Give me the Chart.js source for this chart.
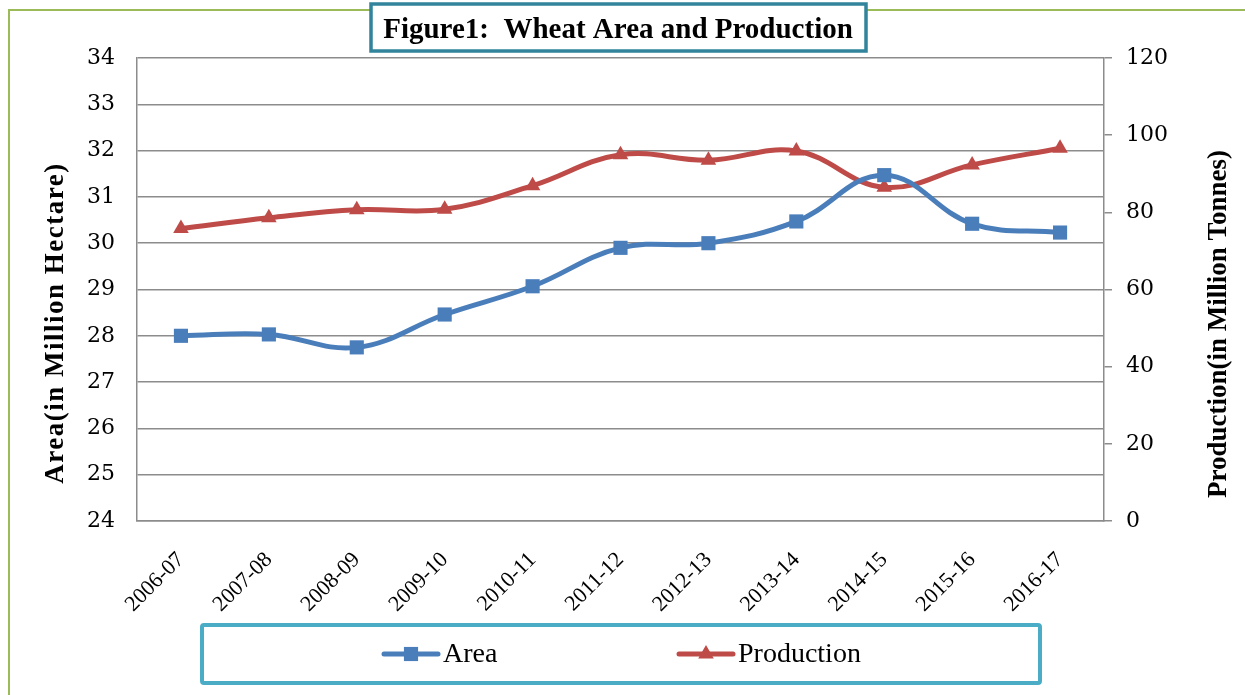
<!DOCTYPE html>
<html>
<head>
<meta charset="utf-8">
<script src="https://cdn.jsdelivr.net/npm/chart.js@4/dist/chart.umd.min.js"></script>
<style>
  html, body { margin: 0; padding: 0; background: #fff; }
  #wrap { width: 1245px; height: 695px; position: relative; }
</style>
</head>
<body>
<div id="wrap"><canvas id="wheatChart" width="1245" height="695"></canvas></div>
<script>
// Dados
const anos = ['2006-07', '2007-08', '2008-09', '2009-10', '2010-11', '2011-12',
              '2012-13', '2013-14', '2014-15', '2015-16', '2016-17'];
const area = [28.0, 28.03, 27.75, 28.46, 29.07, 29.9, 30.0, 30.47, 31.47, 30.42, 30.23];
const producao = [75.8, 78.6, 80.7, 80.8, 86.9, 94.9, 93.5, 95.9, 86.5, 92.3, 96.6];

const tituloGrafico = 'Figure1:  Wheat Area and Production';
const tituloEsq = 'Area(in Million Hectare)';
const tituloDir = 'Production(in Million Tonnes)';

const azul = '#4A7EBB';
const vermelho = '#BE4B48';
const cinza = '#8c8c8c';
const serif = "'Liberation Serif', 'DejaVu Serif', serif";
const serifNum = "'DejaVu Serif', 'Liberation Serif', serif";

// Desenha moldura, título, legenda e títulos dos eixos
const decoracao = {
    id: 'decoracao',
    afterDraw(chart) {
        const ctx = chart.ctx;
        ctx.save();

        // moldura verde externa
        ctx.strokeStyle = '#9BBB59';
        ctx.lineWidth = 2;
        ctx.beginPath();
        ctx.moveTo(9, 700);
        ctx.lineTo(9, 10);
        ctx.lineTo(1250, 10);
        ctx.stroke();

        // caixa do título
        ctx.fillStyle = '#fff';
        ctx.fillRect(371, 4, 495, 47);
        ctx.strokeStyle = '#31849B';
        ctx.lineWidth = 3.5;
        ctx.strokeRect(371, 4, 495, 47);
        ctx.fillStyle = '#000';
        ctx.font = 'bold 29px ' + serif;
        ctx.textAlign = 'center';
        ctx.textBaseline = 'middle';
        ctx.fillText(tituloGrafico, 618, 31);

        // títulos dos eixos
        ctx.font = 'bold 27px ' + serif;
        ctx.save();
        ctx.letterSpacing = '1.5px';
        ctx.translate(56, 323);
        ctx.rotate(-Math.PI / 2);
        ctx.fillText(tituloEsq, 0, 0);
        ctx.restore();
        ctx.save();
        ctx.translate(1219, 324);
        ctx.rotate(-Math.PI / 2);
        ctx.fillText(tituloDir, 0, 0);
        ctx.restore();

        // caixa da legenda
        ctx.strokeStyle = '#4BACC6';
        ctx.lineWidth = 4;
        ctx.beginPath();
        ctx.roundRect(202, 625, 838, 58, 2);
        ctx.stroke();

        const itens = [
            { x: 384, ds: chart.data.datasets[0] },
            { x: 679, ds: chart.data.datasets[1] }
        ];
        const yLeg = 654;
        itens.forEach(item => {
            ctx.strokeStyle = item.ds.borderColor;
            ctx.lineWidth = 5;
            ctx.lineCap = 'round';
            ctx.beginPath();
            ctx.moveTo(item.x, yLeg);
            ctx.lineTo(item.x + 54, yLeg);
            ctx.stroke();
            ctx.fillStyle = item.ds.borderColor;
            Chart.helpers.drawPoint(ctx, {
                pointStyle: item.ds.pointStyle,
                radius: item.ds.pointRadius,
                borderWidth: 0
            }, item.x + 27, yLeg);
            ctx.fillStyle = '#000';
            ctx.font = '28px ' + serif;
            ctx.textAlign = 'left';
            ctx.textBaseline = 'middle';
            ctx.fillText(item.ds.label, item.x + 59, yLeg + 1);
        });

        ctx.restore();
    }
};

const ctx = document.getElementById('wheatChart').getContext('2d');

new Chart(ctx, {
    type: 'line',
    data: {
        labels: anos,
        datasets: [
            {
                label: 'Area',
                data: area,
                yAxisID: 'y',
                borderColor: azul,
                backgroundColor: azul,
                borderWidth: 5,
                tension: 0.4,
                pointStyle: 'rect',
                pointRadius: 10,
                pointBorderWidth: 0,
                pointBackgroundColor: azul
            },
            {
                label: 'Production',
                data: producao,
                yAxisID: 'y1',
                borderColor: vermelho,
                backgroundColor: vermelho,
                borderWidth: 5,
                tension: 0.4,
                pointStyle: 'triangle',
                pointRadius: 9,
                pointBorderWidth: 0,
                pointBackgroundColor: vermelho
            }
        ]
    },
    options: {
        responsive: false,
        animation: false,
        layout: { padding: { top: 58, left: 0, right: 0, bottom: 0 } },
        plugins: {
            legend: { display: false },
            title: { display: false },
            tooltip: { enabled: false }
        },
        scales: {
            x: {
                offset: true,
                grid: { display: false, drawTicks: false },
                border: { color: cinza, width: 1.5 },
                ticks: {
                    maxRotation: 45,
                    minRotation: 45,
                    padding: 26,
                    color: '#000',
                    font: { family: serif, size: 22 }
                },
                afterFit(scale) { scale.height = 174; }
            },
            y: {
                position: 'left',
                min: 24,
                max: 34,
                ticks: {
                    stepSize: 1,
                    padding: 22,
                    color: '#000',
                    font: { family: serifNum, size: 22 }
                },
                grid: { color: cinza, lineWidth: 1.5, drawTicks: false },
                border: { color: cinza, width: 1.5 },
                afterFit(scale) { scale.width = 137; }
            },
            y1: {
                position: 'right',
                min: 0,
                max: 120,
                ticks: {
                    stepSize: 20,
                    padding: 14,
                    color: '#000',
                    font: { family: serifNum, size: 22 }
                },
                grid: { drawOnChartArea: false, color: cinza, lineWidth: 1.5, tickLength: 8 },
                border: { color: cinza, width: 1.5 },
                afterFit(scale) { scale.width = 141; }
            }
        }
    },
    plugins: [decoracao]
});
</script>
</body>
</html>
